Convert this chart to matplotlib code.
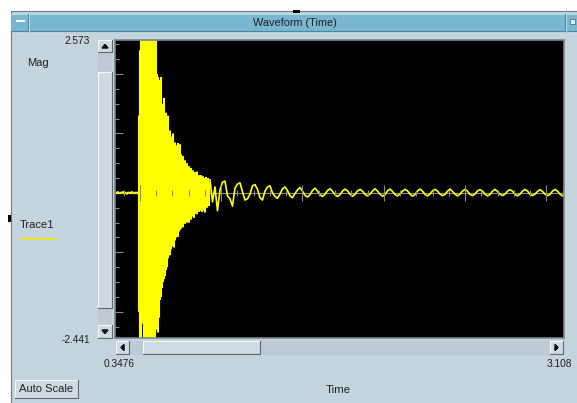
import matplotlib
matplotlib.use("Agg")
import matplotlib.pyplot as plt
import numpy as np
from matplotlib.patches import Rectangle, Polygon

plt.rcParams['font.family'] = ['Liberation Sans', 'DejaVu Sans']

# axis range shown by the instrument window
x_min, x_max = 0.3476, 3.108
y_min, y_max = -2.441, 2.573

# quiet baseline before the hit (1 sample per screen pixel)
pre_t0, pre_dt = 0.3476, 0.00615
pre_vals = [0.0, 0.01, -0.01, 0.02, 0.0, -0.01, 0.01, 0.0, 0.02, -0.01,
            0.01, 0.0, -0.02, 0.01, 0.0, 0.01, -0.01, 0.02, 0.0, -0.01,
            0.01, 0.0, 0.01, -0.01]

# the burst: per screen column, highest and lowest sample
burst_t0, burst_dt = 0.4951, 0.00615
burst_hi = [1.3, 2.4, 3.0, 3.0, 3.0, 3.0, 3.0, 3.0, 3.0, 2.2,
            3.0, 3.0, 3.0, 2.4, 3.0, 3.0, 3.0, 2.7, 2.0, 1.95,
            1.9, 1.7, 1.95, 1.5, 1.45, 1.6, 1.3, 1.35, 1.25, 1.3,
            1.0, 1.05, 0.95, 0.9, 1.0, 0.8, 0.85, 0.7, 0.8, 0.84,
            0.7, 0.82, 0.65, 0.6, 0.62, 0.5, 0.55, 0.45, 0.5, 0.42,
            0.45, 0.4, 0.42, 0.36, 0.38, 0.3, 0.35, 0.32, 0.36, 0.28,
            0.3, 0.25, 0.3, 0.22, 0.28, 0.25, 0.2, 0.27, 0.22, 0.25,
            0.18]
burst_lo = [-2.0, -2.6, -3.0, -2.0, -2.2, -3.0, -3.0, -3.0, -3.0, -3.0,
            -3.0, -3.0, -3.0, -3.0, -3.0, -3.0, -3.0, -2.3, -2.2, -2.35,
            -2.1, -1.8, -1.75, -1.6, -1.5, -1.45, -1.4, -1.3, -1.25, -1.1,
            -1.0, -1.05, -0.95, -0.9, -0.85, -0.92, -0.8, -0.75, -0.7, -0.74,
            -0.65, -0.62, -0.6, -0.55, -0.58, -0.5, -0.52, -0.48, -0.5, -0.45,
            -0.5, -0.42, -0.45, -0.4, -0.38, -0.42, -0.35, -0.33, -0.36, -0.3,
            -0.32, -0.28, -0.3, -0.32, -0.25, -0.3, -0.33, -0.22, -0.25, -0.2,
            -0.22]

# ringing tail, 6 samples per ripple period
ripple_t0, ripple_dt = 0.9316, 0.01537
ripple_vals = [
    0.22, -0.15, 0.1, -0.3, 0.05, 0.18,
    0.2, -0.05, -0.1, -0.22, 0.08, 0.15,
    0.17, 0.02, -0.12, -0.1, -0.02, 0.12,
    0.14, 0.06, -0.08, -0.12, 0.03, 0.1,
    0.12, 0.0, -0.06, -0.09, -0.02, 0.07,
    0.1, 0.04, -0.05, -0.08, -0.01, 0.05,
    0.09, 0.03, -0.04, -0.07, -0.03, 0.04,
    0.08, 0.03, -0.03, -0.06, -0.02, 0.04,
    0.07, 0.03, -0.03, -0.06, -0.03, 0.03,
    0.065, 0.035, -0.02, -0.055, -0.025, 0.035,
    0.06, 0.03, -0.025, -0.05, -0.02, 0.03,
    0.07, 0.03, -0.02, -0.055, -0.03, 0.035,
    0.065, 0.025, -0.025, -0.05, -0.02, 0.03,
    0.06, 0.035, -0.02, -0.055, -0.025, 0.03,
    0.065, 0.03, -0.025, -0.05, -0.02, 0.035,
    0.06, 0.03, -0.02, -0.045, -0.025, 0.03,
    0.065, 0.025, -0.02, -0.05, -0.02, 0.03,
    0.06, 0.03, -0.025, -0.045, -0.02, 0.035,
    0.055, 0.03, -0.02, -0.05, -0.025, 0.03,
    0.06, 0.025, -0.02, -0.045, -0.02, 0.03,
    0.055, 0.03, -0.025, -0.05, -0.02, 0.03,
    0.06, 0.03, -0.02, -0.045, -0.02, 0.025,
    0.055, 0.025, -0.02, -0.045, -0.025, 0.03,
    0.06, 0.03, -0.02, -0.05, -0.02, 0.03,
]

x_major_ticks = [0.5, 1.0, 1.5, 2.0, 2.5, 3.0]
x_minor_ticks = [0.4, 0.6, 0.7, 0.8, 0.9, 1.1, 1.2, 1.3, 1.4, 1.6, 1.7, 1.8,
                 1.9, 2.1, 2.2, 2.3, 2.4, 2.6, 2.7, 2.8, 2.9, 3.1]
y_major_ticks = [-2, -1, 0, 1, 2]
y_minor_ticks = [-2.25, -1.75, -1.5, -1.25, -0.75, -0.5, -0.25, 0.25, 0.5,
                 0.75, 1.25, 1.5, 1.75, 2.25, 2.5]

# sample times
pre_t = pre_t0 + pre_dt * np.arange(len(pre_vals))
burst_t = burst_t0 + burst_dt * np.arange(len(burst_hi))
ripple_t = ripple_t0 + ripple_dt * np.arange(len(ripple_vals))

W, H = 577, 403
PANEL = '#c4d4dc'
FACE = '#cddae1'
LIGHT = '#f4f8fa'
SHADOW = '#5f6a70'
TEXT = '#202020'
TRACE = '#ffff00'

fig = plt.figure(figsize=(W / 100, H / 100), dpi=100, facecolor='white')

# background axes in screen pixels for the window chrome
bg = fig.add_axes([0, 0, 1, 1])
bg.set_xlim(0, W)
bg.set_ylim(H, 0)
bg.axis('off')


def bevel(x, y, w, h, face=FACE):
    bg.add_patch(Rectangle((x, y), w, h, facecolor=face, edgecolor='none'))
    bg.plot([x, x, x + w], [y + h, y, y], color=LIGHT, lw=0.8)
    bg.plot([x, x + w, x + w], [y + h, y + h, y], color=SHADOW, lw=0.8)


# window frame and title bar
bg.add_patch(Rectangle((10.5, 10.5), W - 10, H - 10, facecolor=PANEL,
                       edgecolor='#6d7c84', lw=0.8))
bg.add_patch(Rectangle((11, 13.5), W - 11, 17.5, facecolor='#78b7cf',
                       edgecolor='none'))
bg.plot([11, W], [13.5, 13.5], color='#b2dbea', lw=0.8)
bg.plot([11, W], [31, 31], color='#4e879d', lw=0.8)
bg.plot([28, 28], [14, 31], color='#4e879d', lw=0.8)
bg.plot([29, 29], [14, 31], color='#b2dbea', lw=0.8)
bg.plot([565, 565], [14, 31], color='#4e879d', lw=0.8)
bg.plot([566, 566], [14, 31], color='#b2dbea', lw=0.8)
bg.add_patch(Rectangle((16, 20), 9, 2, facecolor='white', edgecolor='none'))
bg.add_patch(Rectangle((570, 18.5), 5, 5, facecolor='#e6f0f4',
                       edgecolor='#3d7890', lw=0.6))
bg.text(295, 22.5, 'Waveform (Time)', ha='center', va='center',
        fontsize=7.8, color=TEXT)

# little black resize handles
bg.add_patch(Rectangle((293, 10), 7, 3, facecolor='black', edgecolor='none'))
bg.add_patch(Rectangle((8, 215), 3, 7, facecolor='black', edgecolor='none'))

# vertical scroll bar
bg.add_patch(Rectangle((98, 40), 14, 298, facecolor='#bccbd3', edgecolor='none'))
bevel(98, 40, 14, 12)
bevel(98, 72, 14, 236)
bevel(98, 325, 14, 13)
bg.add_patch(Polygon([(102, 48), (108, 48), (105, 44.5)], color='black'))
bg.add_patch(Polygon([(102, 330), (108, 330), (105, 333.5)], color='black'))

# horizontal scroll bar
bg.add_patch(Rectangle((115, 341), 449, 14, facecolor='#bccbd3', edgecolor='none'))
bevel(116, 341, 13, 13)
bevel(143, 341, 117, 13)
bevel(550, 341, 13, 13)
bg.add_patch(Polygon([(124, 344.5), (124, 350.5), (121, 347.5)], color='black'))
bg.add_patch(Polygon([(555, 344.5), (555, 350.5), (558, 347.5)], color='black'))

# labels around the plot
bg.text(90, 41, f'{y_max:.3f}', ha='right', va='center', fontsize=7.3, color=TEXT)
bg.text(90, 340, f'{y_min:.3f}', ha='right', va='center', fontsize=7.3, color=TEXT)
bg.text(119.5, 364, f'{x_min:.4f}', ha='center', va='center', fontsize=7.3, color=TEXT)
bg.text(559.5, 364, f'{x_max:.3f}', ha='center', va='center', fontsize=7.3, color=TEXT)
bg.text(27, 63.5, 'Mag', ha='left', va='center', fontsize=8, color=TEXT)
bg.text(20, 225, 'Trace1', ha='left', va='center', fontsize=8, color=TEXT)
bg.plot([21, 55], [238.5, 238.5], color='#f0e800', lw=1.2)
bg.text(338, 390, 'Time', ha='center', va='center', fontsize=8.2, color=TEXT)

bevel(15, 380, 63, 18)
bg.text(46.5, 389.5, 'Auto Scale', ha='center', va='center', fontsize=8, color=TEXT)

# the trace window
ax = fig.add_axes([115 / W, (H - 338) / H, 449 / W, 298 / H])
ax.set_facecolor('black')
ax.set_xlim(x_min, x_max)
ax.set_ylim(y_min, y_max)
for s in ax.spines.values():
    s.set_color('#7a868c')
    s.set_linewidth(1.2)

ax.set_xticks([])
ax.set_yticks(y_major_ticks)
ax.set_yticks(y_minor_ticks, minor=True)
ax.tick_params(axis='y', which='major', direction='in', length=5.8,
               width=0.8, color='#8a8a8a', labelleft=False)
ax.tick_params(axis='y', which='minor', direction='in', length=2.9,
               width=0.8, color='#8a8a8a')

ax.axhline(0, color='#8a8a8a', lw=0.8, zorder=1)
ax.plot(pre_t, pre_vals, color=TRACE, lw=1.2, zorder=2)
burst = ax.vlines(burst_t, burst_lo, burst_hi, color=TRACE, lw=1.5, zorder=2)
burst.set_snap(False)
ax.plot(ripple_t, ripple_vals, color=TRACE, lw=1.2, zorder=2)
ax.vlines(x_major_ticks, -0.14, 0.14, color='#8a8a8a', lw=0.8, zorder=3)
ax.vlines(x_minor_ticks, -0.045, 0.045, color='#8a8a8a', lw=0.8, zorder=3)

fig.savefig('out.png', dpi=100, facecolor=fig.get_facecolor())
